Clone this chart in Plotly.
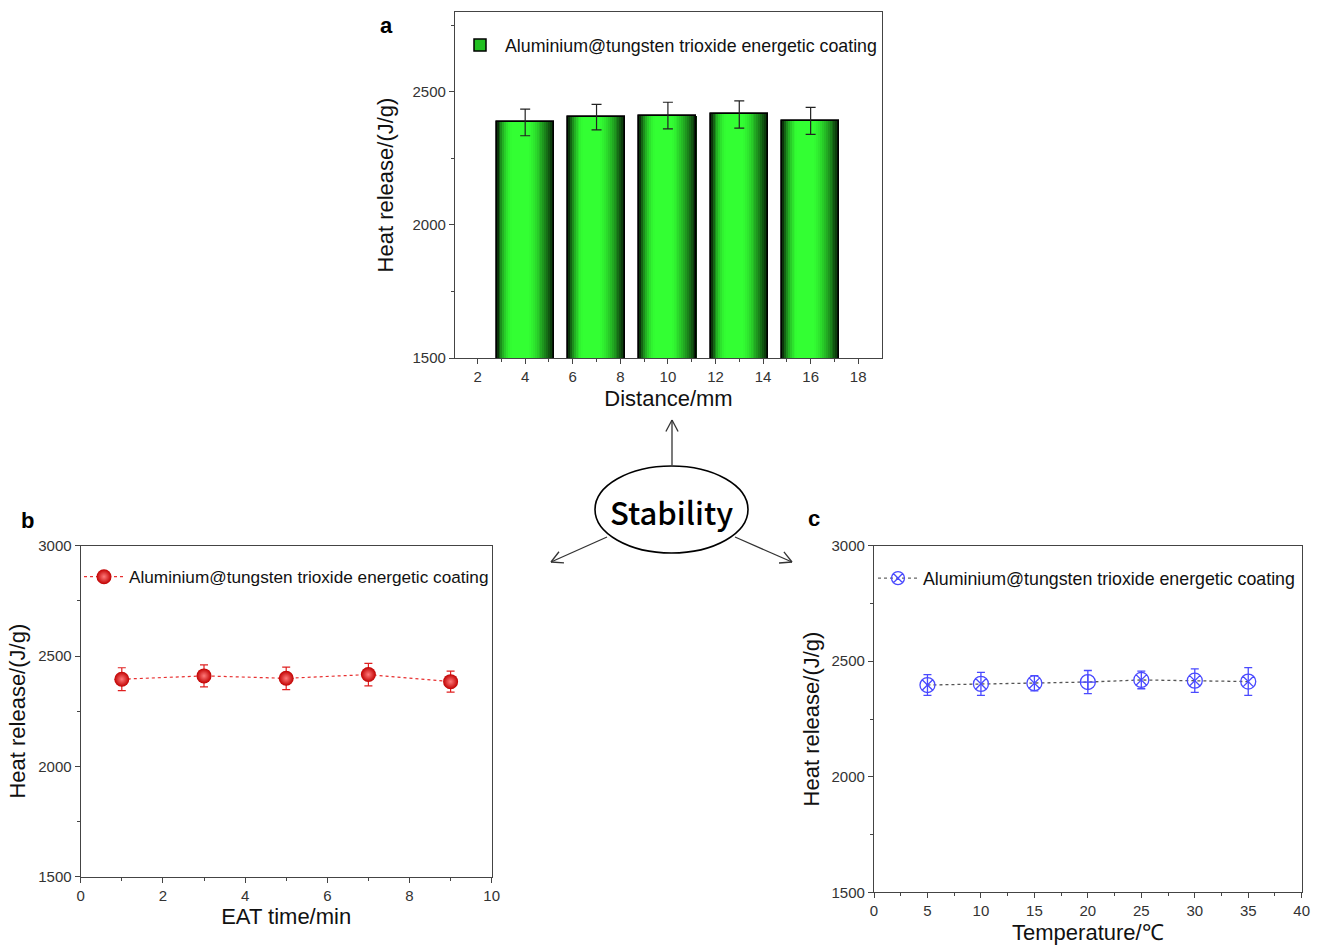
import math
import plotly.graph_objects as go

W, H = 1320, 945

# ---------------- data ----------------
distance_mm = [4, 7, 10, 13, 16]
heat_a = [2385, 2405, 2411, 2415, 2391]
err_a = [50, 48, 50, 51, 51]

eat_time_min = [1, 3, 5, 7, 9]
heat_b = [2395, 2410, 2399, 2416, 2384]
err_b = [52, 50, 51, 51, 48]

temperature_c = [5, 10, 15, 20, 25, 30, 35]
heat_c = [2397, 2402, 2405, 2410, 2419, 2416, 2412]
err_c = [45, 50, 33, 50, 38, 51, 60]

series_name = "Aluminium@tungsten trioxide energetic coating"
FONT = "Liberation Sans, Arial, sans-serif"


def px(x):
    return x / W


def py(y):
    return 1 - y / H


fig = go.Figure()

# ---------------- panel a: bars with cylinder-like shading ----------------
bar_w = 2.4
n_strips = 30


def strip_color(t):
    lo, hi = 0.28, 0.55
    if t < lo:
        b = 1 - ((lo - t) / lo) ** 2
    elif t <= hi:
        b = 1.0
    else:
        b = 1 - ((t - hi) / (1 - hi)) ** 1.5
    b = max(0.0, min(1.0, b))
    r = int(6 + 45 * b)
    g = int(26 + 229 * b)
    return f"rgb({r},{g},{r})"


# legend/base trace
fig.add_trace(go.Bar(
    x=distance_mm, y=heat_a, width=bar_w, name=series_name,
    marker=dict(color="#22c022", line=dict(color="black", width=1.5)),
    xaxis="x", yaxis="y", legend="legend", showlegend=True, hoverinfo="skip"))
for i in range(n_strips):
    t = (i + 0.5) / n_strips
    fig.add_trace(go.Bar(
        x=distance_mm, y=heat_a, width=bar_w / n_strips + 0.01,
        offset=-bar_w / 2 + i * bar_w / n_strips,
        marker=dict(color=strip_color(t), line=dict(width=0)),
        xaxis="x", yaxis="y", showlegend=False, hoverinfo="skip"))
fig.add_trace(go.Bar(
    x=distance_mm, y=heat_a, width=bar_w, name=series_name,
    marker=dict(color="rgba(0,0,0,0)", line=dict(color="black", width=1.5)),
    error_y=dict(type="data", array=err_a, color="#222", thickness=1.2, width=5),
    xaxis="x", yaxis="y", showlegend=False))

# ---------------- panel b ----------------
fig.add_trace(go.Scatter(
    x=eat_time_min, y=heat_b, mode="lines+markers", name=series_name,
    line=dict(color="#e83030", width=1.2, dash="dot"),
    marker=dict(size=15, color="#c00000",
                gradient=dict(type="radial", color="#ff7a7a"),
                line=dict(width=0)),
    error_y=dict(type="data", array=err_b, color="#e02020", thickness=1.2, width=4),
    xaxis="x2", yaxis="y2", legend="legend2"))

# ---------------- panel c ----------------
symbols_c = ["circle-x-open"] * 3 + ["circle-cross-open"] + ["circle-x-open"] * 3
fig.add_trace(go.Scatter(
    x=temperature_c, y=heat_c, mode="lines", name=series_name,
    line=dict(color="#555", width=1.3, dash="dot"),
    xaxis="x3", yaxis="y3", showlegend=False, hoverinfo="skip"))
fig.add_trace(go.Scatter(
    x=temperature_c, y=heat_c, mode="markers", name=series_name,
    marker=dict(size=15, symbol=symbols_c, color="#4a4aff", line=dict(width=1.3, color="#4a4aff")),
    error_y=dict(type="data", array=err_c, color="#4a4aff", thickness=1.3, width=4),
    xaxis="x3", yaxis="y3", showlegend=False))
# legend item for c (dotted gray line + marker look)
fig.add_trace(go.Scatter(
    x=[None], y=[None], mode="lines+markers", name=series_name,
    line=dict(color="#666", width=1.3, dash="dot"),
    marker=dict(size=13, symbol="circle-x-open", color="#4a4aff", line=dict(width=1.3, color="#4a4aff")),
    xaxis="x3", yaxis="y3", legend="legend3"))

axis_common = dict(showline=True, linecolor="#444", linewidth=1.2, mirror=True,
                   ticks="outside", ticklen=5, tickcolor="#444", tickwidth=1.2,
                   showgrid=False, zeroline=False,
                   tickfont=dict(family=FONT, size=15, color="#333"),
                   automargin=False)
title_font = dict(family=FONT, size=22, color="#111")
legend_font_ac = dict(family=FONT, size=17.8, color="#111")
legend_font_b = dict(family=FONT, size=17.2, color="#111")

fig.update_layout(
    width=W, height=H, margin=dict(l=0, r=0, t=0, b=0),
    paper_bgcolor="white", plot_bgcolor="white", barmode="overlay", bargap=0,
    font=dict(family=FONT),
    xaxis=dict(domain=[px(455), px(882)], anchor="y", range=[1.05, 19], tickvals=list(range(2, 19, 2)),
               minor=dict(ticks="outside", ticklen=3, tickvals=list(range(3, 19, 2)), tickcolor="#444"),
               title=dict(text="Distance/mm", font=title_font, standoff=6), **axis_common),
    yaxis=dict(domain=[py(358), py(12)], anchor="x", range=[1500, 2800], tickvals=[1500, 2000, 2500],
               minor=dict(ticks="outside", ticklen=3, tickvals=[1750, 2250, 2750], tickcolor="#444"),
               title=dict(text="Heat release/(J/g)", font=title_font, standoff=12), **axis_common),
    xaxis2=dict(domain=[px(80.7), px(491.7)], anchor="y2", range=[0, 10], tickvals=list(range(0, 11, 2)),
                minor=dict(ticks="outside", ticklen=3, tickvals=[1, 3, 5, 7, 9], tickcolor="#444"),
                title=dict(text="EAT time/min", font=title_font, standoff=5), **axis_common),
    yaxis2=dict(domain=[py(876.7), py(545.7)], anchor="x2", range=[1500, 3000], tickvals=[1500, 2000, 2500, 3000],
                minor=dict(ticks="outside", ticklen=3, tickvals=[1750, 2250, 2750], tickcolor="#444"),
                title=dict(text="Heat release/(J/g)", font=title_font, standoff=6), **axis_common),
    xaxis3=dict(domain=[px(874), px(1301.7)], anchor="y3", range=[0, 40], tickvals=list(range(0, 41, 5)),
                minor=dict(ticks="outside", ticklen=3, tickvals=[2.5 + 5 * k for k in range(8)], tickcolor="#444"),
                title=dict(text="Temperature/℃", font=title_font, standoff=10), **axis_common),
    yaxis3=dict(domain=[py(892.3), py(545.7)], anchor="x3", range=[1500, 3000], tickvals=[1500, 2000, 2500, 3000],
                minor=dict(ticks="outside", ticklen=3, tickvals=[1750, 2250, 2750], tickcolor="#444"),
                title=dict(text="Heat release/(J/g)", font=title_font, standoff=5), **axis_common),
    legend=dict(x=px(455), y=py(27), xanchor="left", yanchor="top", bgcolor="rgba(0,0,0,0)",
                font=legend_font_ac, itemwidth=40),
    legend2=dict(x=px(79), y=py(559), xanchor="left", yanchor="top", bgcolor="rgba(0,0,0,0)",
                 font=legend_font_b, itemwidth=40),
    legend3=dict(x=px(873), y=py(560), xanchor="left", yanchor="top", bgcolor="rgba(0,0,0,0)",
                 font=legend_font_ac, itemwidth=40),
)

# ---------------- panel labels ----------------
for lab, x, y in [("a", 386, 25), ("b", 27, 520), ("c", 814, 518)]:
    fig.add_annotation(x=px(x), y=py(y), xref="paper", yref="paper", text=f"<b>{lab}</b>",
                       xanchor="center", yanchor="middle",
                       showarrow=False, font=dict(family=FONT, size=22, color="black"))

# ---------------- Stability diagram ----------------
shapes = [dict(type="circle", xref="paper", yref="paper", x0=px(595), x1=px(748), y0=py(553), y1=py(466),
               line=dict(color="black", width=1.6), fillcolor="white")]
arrows = [((672, 465), (672, 420)), ((607, 537), (551, 562)), ((735, 537), (792, 562))]
for (x0, y0), (x1, y1) in arrows:
    shapes.append(dict(type="line", xref="paper", yref="paper", x0=px(x0), y0=py(y0), x1=px(x1), y1=py(y1),
                       line=dict(color="#333", width=1.3)))
    ang = math.atan2(y0 - y1, x0 - x1)
    L = 13
    for da in (math.radians(28), -math.radians(28)):
        ex, ey = x1 + L * math.cos(ang + da), y1 + L * math.sin(ang + da)
        shapes.append(dict(type="line", xref="paper", yref="paper", x0=px(x1), y0=py(y1), x1=px(ex), y1=py(ey),
                           line=dict(color="#333", width=1.3)))
fig.update_layout(shapes=shapes)
fig.add_annotation(x=px(671), y=py(511), xref="paper", yref="paper", text="Stability", showarrow=False,
                   xanchor="center", yanchor="middle",
                   font=dict(family="Noto Sans CJK SC, Noto Sans, sans-serif", size=31, color="black", weight=500))

fig.write_html("out.html")
